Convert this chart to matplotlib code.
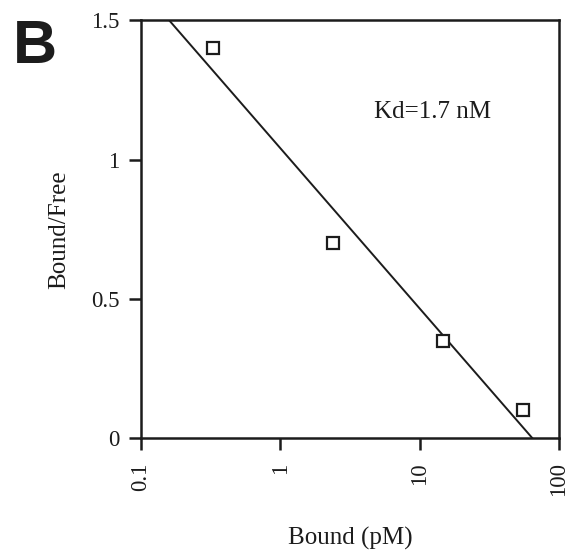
import numpy as np
import matplotlib
matplotlib.use("Agg")
import matplotlib.pyplot as plt

# Scatchard data: bound ligand (pM) vs bound/free ratio
bound_pm = [0.33, 2.37, 14.8, 55.0]
bound_free = [1.40, 0.70, 0.35, 0.10]

x_ticks = [0.1, 1, 10, 100]
x_tick_labels = ["0.1", "1", "10", "100"]
y_ticks = [0, 0.5, 1, 1.5]
y_tick_labels = ["0", "0.5", "1", "1.5"]

ink = "#1c1c1c"
serif = "Liberation Serif"

fig = plt.figure(figsize=(5.74, 5.52), dpi=100)
ax = fig.add_axes([0.2456, 0.2065, 0.7283, 0.7564])

# regression line in log10(bound)
slope, intercept = np.polyfit(np.log10(bound_pm), bound_free, 1)
xs = np.logspace(-1, 2, 200)
ax.plot(xs, intercept + slope * np.log10(xs), color=ink, lw=1.4)

ax.plot(bound_pm, bound_free, linestyle="none", marker="s", markersize=9,
        markerfacecolor="white", markeredgecolor=ink, markeredgewidth=1.6)

ax.set_xscale("log")
ax.set_xlim(0.1, 100)
ax.set_ylim(0, 1.5)
ax.set_xticks(x_ticks)
ax.set_xticklabels(x_tick_labels, rotation=90, fontfamily=serif, fontsize=16.5, color=ink)
ax.xaxis.set_minor_locator(matplotlib.ticker.NullLocator())
ax.set_yticks(y_ticks)
ax.set_yticklabels(y_tick_labels, fontfamily=serif, fontsize=16.5, color=ink)

ax.tick_params(axis="both", direction="out", length=8.5, width=1.8, color=ink)
ax.tick_params(axis="x", pad=9)
ax.tick_params(axis="y", pad=7)
for s in ax.spines.values():
    s.set_linewidth(1.8)
    s.set_color(ink)

ax.set_xlabel("Bound (pM)", fontfamily=serif, fontsize=18, color=ink, labelpad=22)
ax.set_ylabel("Bound/Free", fontfamily=serif, fontsize=18, color=ink, labelpad=15)

ax.text(0.557, 0.781, "Kd=1.7 nM", transform=ax.transAxes, ha="left", va="center",
        fontfamily=serif, fontsize=18, color=ink)

fig.text(13 / 574, 1 - 63 / 552, "B", fontfamily="Liberation Sans", fontweight="bold",
         fontsize=44, color=ink, ha="left", va="baseline")

fig.savefig("out.png", dpi=100, facecolor="white")
